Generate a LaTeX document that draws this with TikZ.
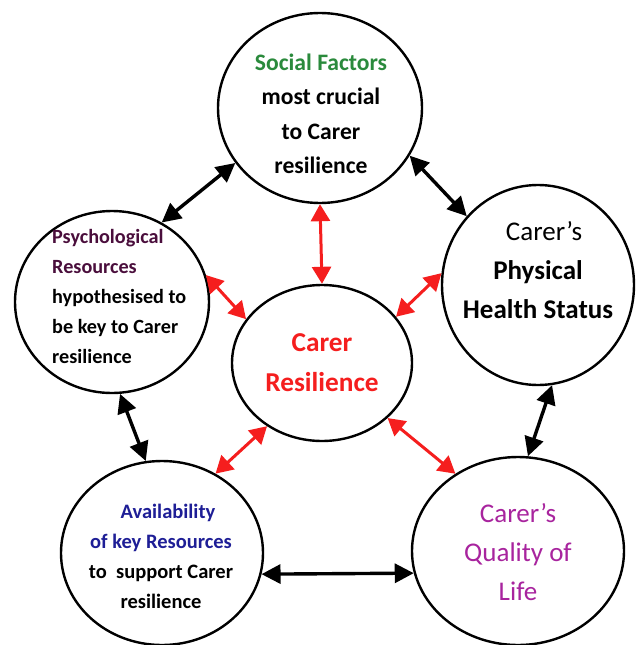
\documentclass[tikz,border=0pt]{standalone}
\usepackage{fontspec}
\setmainfont{Carlito}
\usetikzlibrary{shapes.geometric,arrows.meta}
\definecolor{socgreen}{HTML}{2A8A3C}
\definecolor{cred}{HTML}{F51E1E}
\definecolor{avblue}{HTML}{1E1E96}
\definecolor{qpurple}{HTML}{A8249E}
\definecolor{psych}{HTML}{4A0E3C}
\tikzset{
  bubble/.style={ellipse, draw=black, line width=2.4pt, inner sep=0pt, fill=white},
  blkarrow/.style={line width=3.4pt, black, {Triangle[length=19pt,width=19pt]}-{Triangle[length=19pt,width=19pt]}},
  redarrow/.style={line width=3pt, cred, {Triangle[length=17pt,width=19pt]}-{Triangle[length=17pt,width=19pt]}},
  txt/.style={inner sep=0pt, align=center}
}
\begin{document}
\begin{tikzpicture}[x=1pt,y=-1pt]
\useasboundingbox (0,0) rectangle (641,645);
% bubbles
\node[bubble, minimum width=204pt, minimum height=190pt] (soc) at (320,108) {};
\node[bubble, minimum width=194pt, minimum height=182pt] (psy) at (112,302) {};
\node[bubble, minimum width=192pt, minimum height=200pt] (phy) at (538,285) {};
\node[bubble, minimum width=180pt, minimum height=156pt] (res) at (322,363) {};
\node[bubble, minimum width=202pt, minimum height=184pt] (ava) at (162,553) {};
\node[bubble, minimum width=212pt, minimum height=188pt] (qol) at (518,551) {};
% texts
\node[txt, font=\bfseries\fontsize{23.6}{34.5}\selectfont] (socT) at (321,114)
  {\textcolor{socgreen}{Social Factors}\\most crucial\\to Carer\\resilience};
\node[txt, align=left, anchor=west, font=\bfseries\fontsize{20.2}{30}\selectfont] (psyT) at (52,296)
  {\textcolor{psych}{Psychological}\\\textcolor{psych}{Resources}\\hypothesised to\\be key to Carer\\resilience};
\node[txt, font=\fontsize{27}{39}\selectfont] (phyT) at (538,270)
  {\hspace*{12pt}Carer’s\\\textbf{Physical}\\\textbf{Health Status}};
\node[txt, text=cred, font=\bfseries\fontsize{27.3}{40}\selectfont] (resT) at (322,363)
  {Carer\\Resilience};
\node[txt, font=\bfseries\fontsize{20.5}{30}\selectfont] (avaT) at (161,556)
  {\textcolor{avblue}{\hspace*{14pt}Availability}\\\textcolor{avblue}{of key Resources}\\to~ support Carer\\resilience};
\node[txt, text=qpurple, font=\fontsize{27}{39}\selectfont] (qolT) at (518,552)
  {Carer’s\\Quality of\\Life};
% black arrows (outer ring)
\draw[blkarrow] (psy.58) -- (soc.213);
\draw[blkarrow] (soc.332) -- (phy.136);
\draw[blkarrow] (psy.275) -- (ava.100);
\draw[blkarrow] (phy.278) -- (qol.84);
\draw[blkarrow] (ava.348.5) -- (qol.192);
% red arrows (to centre)
\draw[redarrow] (soc.270) -- (res.90);
\draw[redarrow] (psy.16) -- (res.150);
\draw[redarrow] (phy.173) -- (res.32);
\draw[redarrow] (res.229) -- (ava.56);
\draw[redarrow] (res.320) -- (qol.129);
\end{tikzpicture}
\end{document}
